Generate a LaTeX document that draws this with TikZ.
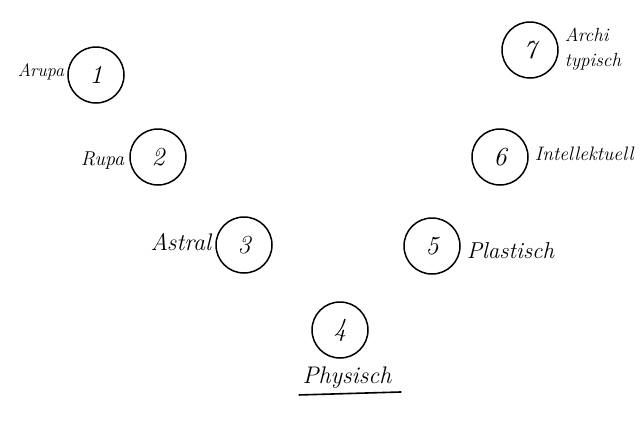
\documentclass[tikz,border=0pt]{standalone}
\begin{document}
\begin{tikzpicture}[
    x=1pt, y=-1pt,
    font=\itshape\fontsize{26}{28}\selectfont,
    plane/.style={draw=black, line width=1.5pt, circle, minimum size=56pt, inner sep=0pt},
    lab/.style={font=\itshape\fontsize{22}{24}\selectfont, align=left, inner sep=0pt}
  ]
    \useasboundingbox (0,0) rectangle (643,440);

    \node[plane] (p1) at (96,75) {1};
    \node[lab, anchor=east, font=\itshape\fontsize{18}{20}\selectfont] (l1) at ([xshift=-3pt,yshift=3pt]p1.west) {Arupa};

    \node[plane] (p2) at (158,157) {2};
    \node[lab, anchor=east, font=\itshape\fontsize{20}{22}\selectfont] (l2) at ([xshift=-5pt,yshift=-4pt]p2.west) {Rupa};

    \node[plane] (p3) at (244,245) {3};
    \node[lab, anchor=east, font=\itshape\fontsize{24}{26}\selectfont] (l3) at ([xshift=-4pt,yshift=3pt]p3.west) {Astral};

    \node[plane] (p4) at (340,330) {4};
    \node[lab, font=\itshape\fontsize{24}{26}\selectfont] (l4) at (347,378) {Physisch};
    \draw[line width=1.6pt] ([xshift=-4pt,yshift=-6pt]l4.south west) -- ([xshift=10pt,yshift=-3pt]l4.south east);

    \node[plane] (p5) at (432,246) {5};
    \node[lab, anchor=west, font=\itshape\fontsize{23}{25}\selectfont] (l5) at ([xshift=6pt,yshift=-5pt]p5.east) {Plastisch};

    \node[plane] (p6) at (500,157) {6};
    \node[lab, anchor=west, font=\itshape\fontsize{19.5}{22}\selectfont] (l6) at ([xshift=6pt,yshift=3pt]p6.east) {Intellektuell};

    \node[plane] (p7) at (530,50) {7};
    \node[lab, anchor=west, font=\itshape\fontsize{19}{25}\selectfont] (l7) at ([xshift=6pt,yshift=1pt]p7.east) {Archi\\typisch};
  \end{tikzpicture}
\end{document}
